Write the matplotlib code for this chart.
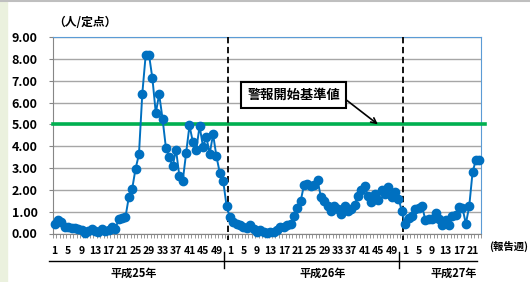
# -*- coding: utf-8 -*-
import matplotlib
matplotlib.use('Agg')
import matplotlib.pyplot as plt
import matplotlib.transforms as mtransforms
from matplotlib.patches import Rectangle
from matplotlib.lines import Line2D
import numpy as np

plt.rcParams['font.family'] = ['Noto Sans CJK JP', 'DejaVu Sans']
plt.rcParams['font.weight'] = 'bold'

#%% data (人/定点, weekly)
h25 = [0.44, 0.63, 0.53, 0.32, 0.29, 0.26, 0.24, 0.22, 0.14, 0.03,
       0.11, 0.20, 0.10, 0.06, 0.20, 0.10, 0.15, 0.28, 0.20, 0.67,
       0.72, 0.75, 1.67, 2.05, 2.97, 3.62, 6.41, 8.17, 8.17, 7.10,
       5.52, 6.38, 5.26, 3.93, 3.50, 3.07, 3.84, 2.62, 2.42, 3.68,
       4.95, 4.19, 3.84, 4.92, 3.98, 4.43, 3.66, 4.54, 3.53, 2.77,
       2.42, 1.26]
h26 = [0.75, 0.52, 0.44, 0.40, 0.32, 0.26, 0.41, 0.21, 0.09, 0.17,
       0.06, 0.02, 0.06, 0.09, 0.17, 0.29, 0.29, 0.37, 0.44, 0.78,
       1.16, 1.50, 2.23, 2.28, 2.16, 2.20, 2.43, 1.67, 1.51, 1.28,
       1.02, 1.24, 1.13, 0.90, 1.28, 1.05, 1.13, 1.32, 1.74, 2.00,
       2.16, 1.74, 1.44, 1.82, 1.55, 2.00, 1.82, 2.12, 1.67, 1.90,
       1.59, 1.05]
h27 = [0.44, 0.72, 0.78, 1.13, 1.18, 1.28, 0.60, 0.67, 0.67, 0.93,
       0.67, 0.41, 0.60, 0.37, 0.78, 0.83, 1.21, 1.18, 0.44, 1.24,
       2.81, 3.38, 3.38]
years = ['平成25年', '平成26年', '平成27年']
alarm_level = 5.0
alarm_label = '警報開始基準値'

values = h25 + h26 + h27
n = len(values)
x = np.arange(n)
week_nums = list(range(1, len(h25) + 1)) + list(range(1, len(h26) + 1)) + list(range(1, len(h27) + 1))
tick_pos = [i for i, w in enumerate(week_nums) if (w - 1) % 4 == 0]
tick_lab = [str(week_nums[i]) for i in tick_pos]
year_bounds = [len(h25) - 0.5, len(h25) + len(h26) - 0.5]

#%% plot
W, H = 530, 282
fig = plt.figure(figsize=(W / 100, H / 100), dpi=100)
fig.patches.append(Rectangle((0, 0), 7 / W, 1, transform=fig.transFigure,
                             color='#EBF1DE', zorder=-1))
fig.add_artist(Line2D([0, 1], [1 - 1 / H, 1 - 1 / H], transform=fig.transFigure,
                      color='#BFBFBF', lw=1.5))

ax = fig.add_axes([53 / W, 1 - 233.5 / H, 428 / W, 196.5 / H])

ax.plot(x, values, color='#0070C0', lw=1.4, marker='o', ms=6,
        mec='#0070C0', mfc='#0070C0', zorder=5, clip_on=False)
ax.axhline(alarm_level, xmin=0, xmax=1.01, color='#00B050', lw=2.6,
           clip_on=False, zorder=3)
for b in year_bounds:
    ax.plot([b, b], [9, -0.3], color='black', lw=1.3, dashes=(3.5, 2),
            clip_on=False, zorder=4)

ax.set_xlim(-0.5, n - 0.5)
ax.set_ylim(0, 9)
ax.set_yticks(np.arange(0, 10))
ax.yaxis.set_major_formatter('{x:.2f}')
ax.grid(axis='y', color='#A6A6A6', lw=1)
ax.set_axisbelow(True)
ax.set_xticks(tick_pos)
ax.set_xticklabels(tick_lab)
ax.set_xticks(np.arange(-0.5, n), minor=True)
ax.tick_params(axis='x', which='major', length=0, pad=9, labelsize=7.5)
ax.tick_params(axis='x', which='minor', length=3, color='#868686')
ax.tick_params(axis='y', length=3, color='#868686', pad=8, labelsize=9)
for s in ['left', 'bottom']:
    ax.spines[s].set_color('#868686')
for s in ['top', 'right']:
    ax.spines[s].set_color('#5B9BD5')

ax.annotate(alarm_label, xy=(95.9, alarm_level), xytext=(70.9, 6.34),
            ha='center', va='center', fontsize=9.5,
            bbox=dict(boxstyle='square,pad=0.45', fc='white', ec='black', lw=1.5),
            arrowprops=dict(arrowstyle='->', color='black', lw=1.2, relpos=(1, 0.5),
                            shrinkA=0, shrinkB=0),
            zorder=6)

# year bracket under the axis
tr = mtransforms.blended_transform_factory(ax.transData, fig.transFigure)
fig.add_artist(Line2D([-1.8, 125.3], [1 - 261 / H] * 2, transform=tr, color='black', lw=1))
for b in year_bounds:
    fig.add_artist(Line2D([b - 1.2, b - 1.2], [1 - 252 / H, 1 - 268 / H],
                          transform=tr, color='black', lw=1))
for lab, xc in zip(years, [23.5, 79.5, 118.5]):
    fig.text(xc, 1 - 273 / H, lab, transform=tr, ha='center', va='center', fontsize=8)

fig.text(53 / W, 1 - 22 / H, '（人/定点）', ha='left', va='center', fontsize=8.5)
fig.text(489 / W, 1 - 246 / H, '(報告週)', ha='left', va='center', fontsize=7.5)

fig.savefig('out.png', dpi=100)
